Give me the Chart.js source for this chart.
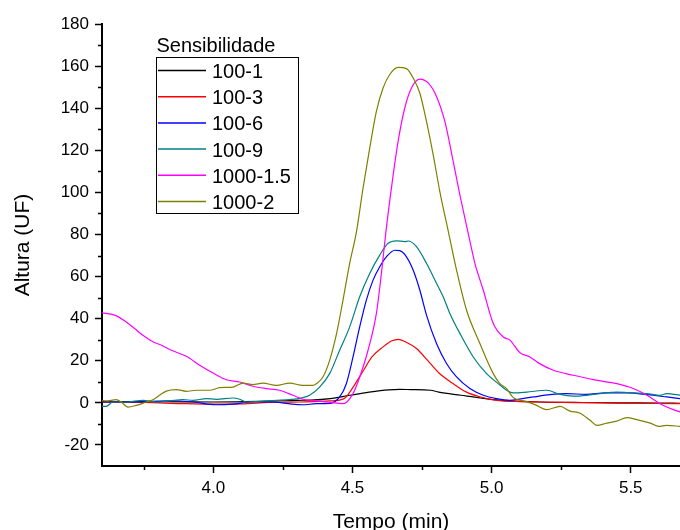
<!DOCTYPE html>
<html>
<head>
<meta charset="utf-8">
<title>Sensibilidade</title>
<script src="https://cdn.jsdelivr.net/npm/chart.js@4.4.0/dist/chart.umd.min.js"></script>
<style>
  html, body { margin: 0; padding: 0; background: #fff; }
</style>
</head>
<body>
<canvas id="myChart" width="680" height="530"></canvas>
<script>
// SERIES (tempo em min / altura em UF)
const t1 = [3.60, 3.80, 4.00, 4.20, 4.30, 4.35, 4.42, 4.49, 4.56, 4.63, 4.67, 4.71, 4.78, 4.81, 4.89, 4.96, 5.03, 5.10, 5.17, 5.30, 5.45, 5.60, 5.68];
const s1 = [0.5, 0.6, 0.4, 0.8, 1.2, 1.3, 2.0, 3.6, 5.1, 6.2, 6.4, 6.3, 6.0, 5.1, 3.6, 2.3, 1.2, 0.7, 0.4, 0.2, 0.0, -0.1, -0.2];

const t3 = [3.60, 3.75, 3.90, 4.00, 4.10, 4.20, 4.31, 4.42, 4.47, 4.50, 4.54, 4.57, 4.61, 4.64, 4.665, 4.69, 4.73, 4.77, 4.81, 4.86, 4.91, 4.96, 5.02, 5.09, 5.17, 5.30, 5.45, 5.60, 5.68];
const s3 = [0.4, 0.2, -0.4, -0.6, -0.5, 0.2, 0.4, 0.9, 2.0, 7.0, 15.5, 21.8, 26.6, 29.4, 30.2, 29.0, 25.8, 20.2, 14.3, 9.3, 5.1, 2.8, 1.2, 0.7, 0.4, 0.1, -0.1, -0.3, -0.4];

const t6 = [3.60, 3.72, 3.83, 3.93, 4.01, 4.07, 4.14, 4.21, 4.27, 4.32, 4.37, 4.42, 4.454, 4.478, 4.502, 4.526, 4.55, 4.574, 4.598, 4.622, 4.652, 4.67, 4.694, 4.718, 4.742, 4.766, 4.802, 4.838, 4.874, 4.922, 4.97, 5.018, 5.066, 5.10, 5.15, 5.21, 5.27, 5.34, 5.41, 5.49, 5.56, 5.63, 5.68];
const s6 = [0.4, 0.4, 1.0, 0.4, -0.9, -0.6, 0.4, 0.4, -0.4, -0.9, -0.4, -0.3, 2.8, 9.1, 21.8, 36.1, 48.8, 58.3, 64.7, 69.4, 72.5, 72.3, 69.4, 63.1, 53.6, 41.7, 28.2, 18.7, 12.3, 6.8, 3.6, 2.0, 1.2, 1.8, 2.8, 3.9, 4.4, 4.0, 4.7, 4.7, 3.9, 2.8, 2.0];

const t9 = [3.600, 3.615, 3.639, 3.687, 3.747, 3.795, 3.843, 3.891, 3.927, 3.975, 4.011, 4.071, 4.095, 4.119, 4.167, 4.227, 4.274, 4.322, 4.346, 4.382, 4.418, 4.454, 4.49, 4.526, 4.562, 4.598, 4.628, 4.658, 4.688, 4.70, 4.73, 4.766, 4.802, 4.826, 4.85, 4.886, 4.934, 4.982, 5.03, 5.054, 5.078, 5.126, 5.198, 5.246, 5.294, 5.342, 5.39, 5.45, 5.509, 5.558, 5.605, 5.629, 5.68];
const s9 = [-1.7, -1.7, 0.4, 0.4, 1.2, 0.4, 0.9, 1.5, 1.2, 2.0, 1.7, 2.3, 1.7, 0.4, 0.7, 1.2, 1.5, 2.5, 3.6, 7.5, 13.9, 25.0, 36.1, 50.4, 61.5, 70.2, 75.8, 77.0, 76.6, 76.9, 74.2, 66.3, 56.8, 50.4, 42.5, 33.0, 21.8, 13.9, 8.5, 6.0, 4.7, 5.1, 6.0, 4.0, 3.2, 3.6, 4.4, 5.1, 4.7, 4.4, 3.6, 4.4, 3.6];

const t15 = [3.600, 3.645, 3.681, 3.717, 3.747, 3.783, 3.813, 3.849, 3.903, 3.951, 3.999, 4.047, 4.095, 4.142, 4.19, 4.238, 4.286, 4.322, 4.37, 4.42, 4.466, 4.502, 4.526, 4.556, 4.586, 4.604, 4.62, 4.64, 4.664, 4.688, 4.712, 4.742, 4.772, 4.802, 4.832, 4.862, 4.886, 4.916, 4.94, 4.97, 5.006, 5.042, 5.066, 5.102, 5.138, 5.168, 5.222, 5.294, 5.366, 5.45, 5.509, 5.558, 5.605, 5.653, 5.68];
const s15 = [42.8, 41.7, 39.0, 35.3, 32.1, 29.0, 27.4, 25.0, 22.1, 17.9, 14.2, 11.0, 9.9, 7.9, 6.8, 6.0, 3.6, 1.7, 0.9, 0.2, -0.4, 4.4, 12.3, 25.0, 42.5, 61.5, 81.0, 102.0, 124.2, 140.1, 149.6, 153.8, 152.0, 145.6, 133.7, 114.7, 98.8, 80.5, 66.3, 53.6, 37.7, 31.3, 29.8, 23.8, 21.8, 19.0, 15.5, 13.1, 11.0, 9.1, 6.8, 3.6, -0.4, -3.2, -4.4];

const t2 = [3.600, 3.615, 3.651, 3.669, 3.693, 3.723, 3.759, 3.783, 3.807, 3.831, 3.867, 3.903, 3.939, 3.987, 4.023, 4.071, 4.107, 4.142, 4.178, 4.227, 4.274, 4.322, 4.358, 4.37, 4.394, 4.418, 4.443, 4.466, 4.49, 4.514, 4.538, 4.562, 4.586, 4.61, 4.634, 4.664, 4.694, 4.718, 4.742, 4.766, 4.79, 4.814, 4.844, 4.874, 4.91, 4.958, 5.006, 5.03, 5.054, 5.078, 5.126, 5.162, 5.198, 5.246, 5.282, 5.318, 5.354, 5.378, 5.414, 5.45, 5.486, 5.522, 5.57, 5.60, 5.629, 5.68];
const s2 = [1.2, 0.9, 1.5, 0.4, -2.0, -1.2, 0.4, 1.5, 3.6, 5.6, 6.3, 5.5, 6.0, 6.0, 7.2, 7.5, 9.4, 8.7, 9.4, 8.3, 9.4, 8.3, 8.3, 9.1, 12.3, 20.2, 33.0, 48.8, 66.3, 81.0, 102.0, 121.0, 138.5, 149.6, 156.0, 159.4, 158.8, 154.4, 147.2, 133.7, 117.9, 100.4, 81.7, 63.1, 44.0, 28.2, 13.9, 9.1, 6.8, 2.5, 0.6, -1.2, -3.2, -1.7, -3.9, -4.9, -8.3, -10.7, -9.6, -8.7, -7.0, -8.0, -9.6, -11.2, -10.7, -11.2];

const labels = ['100-1', '100-3', '100-6', '100-9', '1000-1.5', '1000-2'];
const colors = ['#000000', '#ff0000', '#0000ff', '#008080', '#ff00ff', '#808000'];
const times = [t1, t3, t6, t9, t15, t2];
const heights = [s1, s3, s6, s9, s15, s2];

// TICKS
const xTicks = [4.0, 4.5, 5.0, 5.5];
const xMinor = [3.75, 4.25, 4.75, 5.25];
const yTicks = [-20, 0, 20, 40, 60, 80, 100, 120, 140, 160, 180];
const yMinor = [-10, 10, 30, 50, 70, 90, 110, 130, 150, 170];
const legendTitle = 'Sensibilidade';

const FONT = '"Liberation Sans", Arial, sans-serif';

//BUILD DATASETS
const datasets = labels.map((name, i) => ({
    label: name,
    data: times[i].map((t, j) => ({ x: t, y: heights[i][j] })),
    borderColor: colors[i],
    borderWidth: 1.2,
    pointRadius: 0,
    fill: false,
    cubicInterpolationMode: 'monotone',
    order: labels.length - i
}));

// MINOR TICKS
const minorTicks = {
    id: 'minorTicks',
    afterDraw(chart) {
        const ctx = chart.ctx;
        const x = chart.scales.x;
        const y = chart.scales.y;
        ctx.save();
        ctx.strokeStyle = '#000';
        ctx.lineWidth = 1.5;
        ctx.beginPath();
        for (let v of xMinor) {
            const px = Math.round(x.getPixelForValue(v)) + 0.5;
            ctx.moveTo(px, x.top);
            ctx.lineTo(px, x.top + 4);
        }
        for (let v of yMinor) {
            const py = Math.round(y.getPixelForValue(v)) + 0.5;
            ctx.moveTo(y.right, py);
            ctx.lineTo(y.right - 4, py);
        }
        ctx.stroke();
        ctx.restore();
    }
};

// LEGEND BOX (inside plot)
const boxLegend = {
    id: 'boxLegend',
    afterDatasetsDraw(chart) {
        const ctx = chart.ctx;
        const a = chart.chartArea;
        const x0 = a.left + 53.5;
        const y0 = a.top + 33;
        const rowH = 26.2;
        ctx.save();
        ctx.font = '20px ' + FONT;
        ctx.fillStyle = '#000';
        ctx.textBaseline = 'alphabetic';
        ctx.fillText(legendTitle, x0 + 1, y0 - 5);
        ctx.strokeStyle = '#000';
        ctx.lineWidth = 1;
        ctx.strokeRect(Math.round(x0) + 0.5, Math.round(y0) + 0.5, 142, 156);
        chart.data.datasets.forEach((ds, i) => {
            const cy = y0 + 13.5 + i * rowH;
            ctx.strokeStyle = ds.borderColor;
            ctx.lineWidth = 1.5;
            ctx.beginPath();
            ctx.moveTo(x0 + 2.5, cy);
            ctx.lineTo(x0 + 50.5, cy);
            ctx.stroke();
            ctx.fillText(ds.label, x0 + 56.5, cy + 7.5);
        });
        ctx.restore();
    }
};

const ctx = document.getElementById('myChart').getContext('2d');
new Chart(ctx, {
    type: 'line',
    data: { datasets: datasets },
    plugins: [minorTicks, boxLegend],
    options: {
        responsive: false,
        animation: false,
        devicePixelRatio: 1,
        layout: { padding: { top: 24, right: 0, bottom: 0, left: 0 } },
        plugins: {
            legend: { display: false },
            tooltip: { enabled: false }
        },
        scales: {
            x: {
                type: 'linear',
                min: 3.6,
                max: 5.677,
                afterBuildTicks: s => { s.ticks = xTicks.map(v => ({ value: v })); },
                afterFit: s => { s.height = 64; },
                border: { color: '#000', width: 2 },
                grid: { drawOnChartArea: false, drawTicks: true, tickLength: 7, tickColor: '#000', tickWidth: 1.5 },
                ticks: {
                    color: '#000',
                    font: { family: FONT, size: 17 },
                    padding: 5,
                    maxRotation: 0,
                    autoSkip: false,
                    callback: v => v.toFixed(1)
                },
                title: {
                    display: true,
                    text: 'Tempo (min)',
                    color: '#000',
                    font: { family: FONT, size: 21 },
                    padding: { top: 0, bottom: -4.5 }
                }
            },
            y: {
                min: -30,
                max: 180,
                afterBuildTicks: s => { s.ticks = yTicks.map(v => ({ value: v })); },
                afterFit: s => { s.width = 102; },
                border: { color: '#000', width: 2 },
                grid: { drawOnChartArea: false, drawTicks: true, tickLength: 7, tickColor: '#000', tickWidth: 1.5 },
                ticks: {
                    color: '#000',
                    font: { family: FONT, size: 17 },
                    padding: 6,
                    autoSkip: false
                },
                title: {
                    display: true,
                    text: 'Altura (UF)',
                    color: '#000',
                    font: { family: FONT, size: 21 },
                    padding: { top: 11, bottom: 0 }
                }
            }
        }
    }
});
</script>
</body>
</html>
